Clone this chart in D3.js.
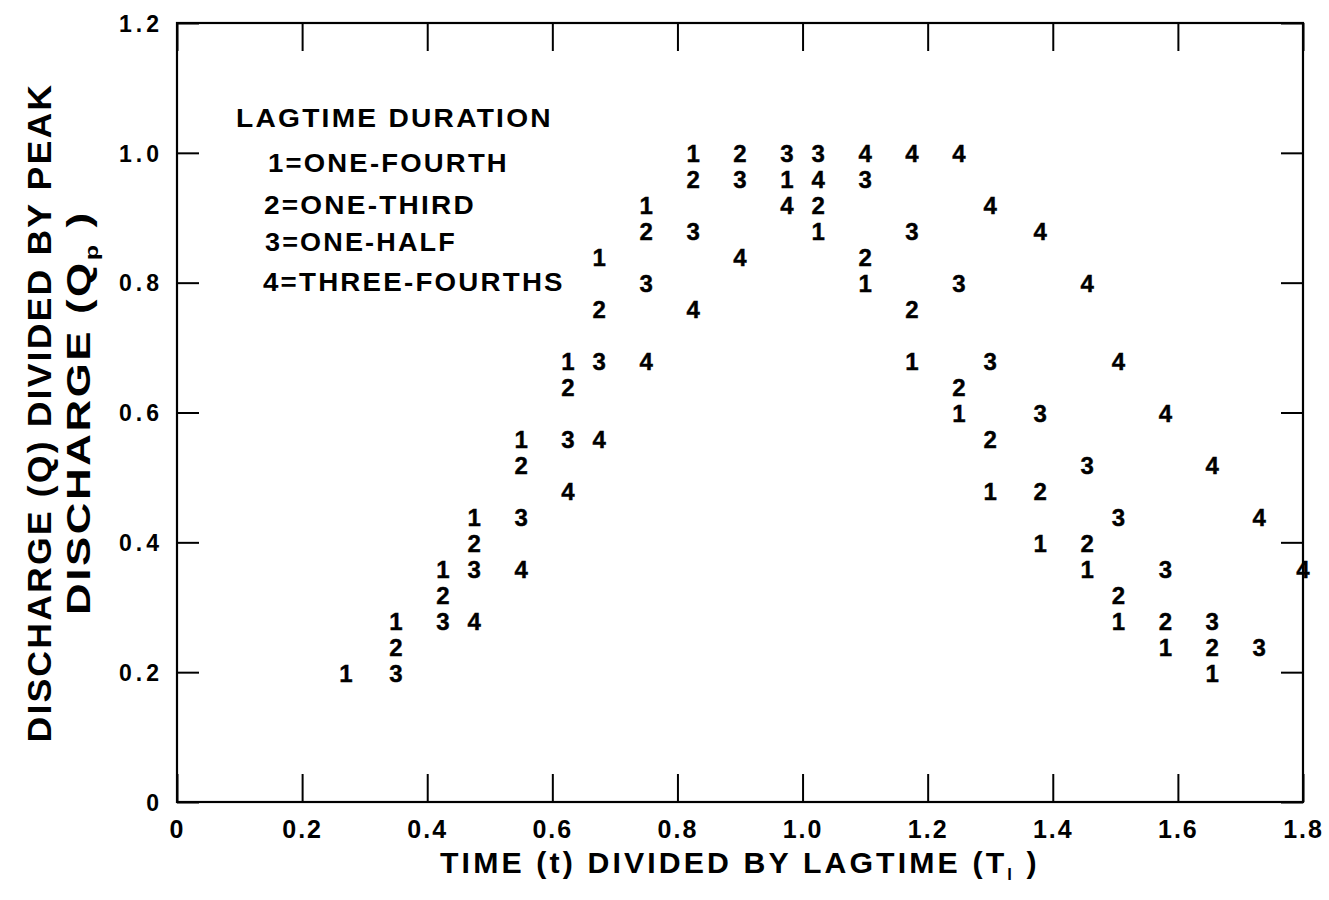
<!DOCTYPE html>
<html>
<head>
<meta charset="utf-8">
<script src="https://cdn.jsdelivr.net/npm/d3@7/dist/d3.min.js"></script>
<style>
  html, body { margin: 0; padding: 0; background: #fff; }
  svg text { font-family: "Liberation Sans", Arial, Helvetica, sans-serif; font-weight: bold; fill: #000; }
</style>
</head>
<body>
<svg id="chart" width="1329" height="900"></svg>
<script>
// Time steps (t / lagtime) at which the dimensionless hydrograph ordinates are plotted
const timeRatio = [0.27, 0.35, 0.425, 0.475, 0.55, 0.625, 0.675, 0.75, 0.825, 0.90, 0.975, 1.025,
                   1.10, 1.175, 1.25, 1.30, 1.38, 1.455, 1.505, 1.58, 1.655, 1.73, 1.80];

// Q / Qp for each lagtime duration (null = no point plotted at that time)
const oneFourth     = [0.20, 0.28, 0.36, 0.44, 0.56, 0.68, 0.84, 0.92, 1.00, null, 0.96, 0.88,
                       0.80, 0.68, 0.60, 0.48, 0.40, 0.36, 0.28, 0.24, 0.20, null, null];
const oneThird      = [null, 0.24, 0.32, 0.40, 0.52, 0.64, 0.76, 0.88, 0.96, 1.00, null, 0.92,
                       0.84, 0.76, 0.64, 0.56, 0.48, 0.40, 0.32, 0.28, 0.24, null, null];
const oneHalf       = [null, 0.20, 0.28, 0.36, 0.44, 0.56, 0.68, 0.80, 0.88, 0.96, 1.00, 1.00,
                       0.96, 0.88, 0.80, 0.68, 0.60, 0.52, 0.44, 0.36, 0.28, 0.24, null];
const threeFourths  = [null, null, null, 0.28, 0.36, 0.48, 0.56, 0.68, 0.76, 0.84, 0.92, 0.96,
                       1.00, 1.00, 1.00, 0.92, 0.88, 0.80, 0.68, 0.60, 0.52, 0.44, 0.36];

const seriesCodes  = ["1", "2", "3", "4"];
const seriesValues = [oneFourth, oneThird, oneHalf, threeFourths];

const legendTitle  = "LAGTIME DURATION";
const legendLabels = ["1=ONE-FOURTH", "2=ONE-THIRD", "3=ONE-HALF", "4=THREE-FOURTHS"];

const xTicks      = [0, 0.2, 0.4, 0.6, 0.8, 1.0, 1.2, 1.4, 1.6, 1.8];
const xTickLabels = ["0", "0.2", "0.4", "0.6", "0.8", "1.0", "1.2", "1.4", "1.6", "1.8"];
const yTicks      = [0, 0.2, 0.4, 0.6, 0.8, 1.0, 1.2];
const yTickLabels = ["0", "0.2", "0.4", "0.6", "0.8", "1.0", "1.2"];

const svg = d3.select("#chart");
const frame = { left: 177, right: 1303, top: 23, bottom: 802 };

const x = d3.scaleLinear().domain([0, 1.8]).range([frame.left, frame.right]);
const y = d3.scaleLinear().domain([0, 1.2]).range([frame.bottom, frame.top]);

// Widen a text element horizontally (in its own frame) so it spans `width` px,
// starting at local origin; `pre` is the transform placed before the stretch.
function stretchTo(sel, width, pre) {
  const w = sel.node().getComputedTextLength();
  sel.attr("transform", `${pre} scale(${width / w},1)`);
}

// ---- axes: inward ticks on all four sides ----
const bottomAxis = d3.axisBottom(x).tickValues(xTicks)
  .tickFormat((d, i) => xTickLabels[i]).tickSizeInner(-28).tickSizeOuter(0).tickPadding(0);
const topAxis = d3.axisTop(x).tickValues(xTicks).tickFormat("").tickSizeInner(-28).tickSizeOuter(0);
const leftAxis = d3.axisLeft(y).tickValues(yTicks)
  .tickFormat((d, i) => yTickLabels[i]).tickSizeInner(-22).tickSizeOuter(0).tickPadding(0);
const rightAxis = d3.axisRight(y).tickValues(yTicks).tickFormat("").tickSizeInner(-22).tickSizeOuter(0);

const gB = svg.append("g").attr("transform", `translate(0,${frame.bottom})`).call(bottomAxis);
const gT = svg.append("g").attr("transform", `translate(0,${frame.top})`).call(topAxis);
const gL = svg.append("g").attr("transform", `translate(${frame.left},0)`).call(leftAxis);
const gR = svg.append("g").attr("transform", `translate(${frame.right},0)`).call(rightAxis);

[gB, gT, gL, gR].forEach(g => {
  g.select(".domain").remove();
  g.selectAll(".tick line").attr("stroke", "#000").attr("stroke-width", 2);
  g.attr("font-family", null).attr("font-size", null);
});

gB.selectAll(".tick text")
  .attr("y", 27).attr("dy", "0.36em")
  .style("font-size", "25px")
  .style("letter-spacing", "2px");

gL.selectAll(".tick text")
  .attr("x", -14).attr("dy", "0.36em")
  .style("font-size", "23px")
  .style("letter-spacing", "4px")
  .attr("text-anchor", "end");

// plot frame
svg.append("rect")
  .attr("x", frame.left).attr("y", frame.top)
  .attr("width", frame.right - frame.left).attr("height", frame.bottom - frame.top)
  .attr("fill", "none").attr("stroke", "#000").attr("stroke-width", 2.2);

// ---- data points drawn as their series code digit ----
const points = [];
seriesValues.forEach((vals, s) => {
  vals.forEach((v, i) => {
    if (v !== null) points.push({ code: seriesCodes[s], t: timeRatio[i], q: v });
  });
});

svg.append("g").selectAll("text")
  .data(points)
  .join("text")
  .attr("x", d => x(d.t))
  .attr("y", d => y(d.q))
  .attr("dy", "0.40em")
  .attr("text-anchor", "middle")
  .style("font-size", "24px")
  .style("stroke", "#000")
  .style("stroke-width", "0.4px")
  .text(d => d.code);

// ---- legend ----
const legend = svg.append("g");
legend.append("text")
  .style("font-size", "25px")
  .style("letter-spacing", "2px")
  .text(legendTitle)
  .call(stretchTo, 317, "translate(236,127)");

const legendX = [268, 264, 265, 263];
const legendW = [241, 212, 192, 302];
const legendY = [172, 214, 251, 291];
legendLabels.forEach((lab, i) => {
  legend.append("text")
    .style("font-size", "25px")
    .style("letter-spacing", "2px")
    .text(lab)
    .call(stretchTo, legendW[i], `translate(${legendX[i]},${legendY[i]})`);
});

// ---- axis titles ----
const xTarget = 600;
const xTitle = svg.append("text")
  .style("font-size", "29px")
  .style("letter-spacing", "3px");
xTitle.append("tspan").text("TIME (t) DIVIDED BY LAGTIME (T");
xTitle.append("tspan").attr("dy", 7).style("font-size", "16px").text("l");
xTitle.append("tspan").attr("dy", -7).text(" )");
xTitle.call(stretchTo, xTarget, `translate(${(frame.left + frame.right) / 2 - xTarget / 2},873)`);

const yMid = (frame.top + frame.bottom) / 2;

const y1Target = 660;
const yTitle1 = svg.append("text")
  .style("font-size", "33px")
  .style("letter-spacing", "2px")
  .text("DISCHARGE (Q) DIVIDED BY PEAK");
yTitle1.call(stretchTo, y1Target, `translate(51,${yMid + y1Target / 2}) rotate(-90)`);

const y2Target = 405;
const yTitle2 = svg.append("text")
  .style("font-size", "33px")
  .style("letter-spacing", "2px");
yTitle2.append("tspan").text("DISCHARGE (Q");
yTitle2.append("tspan").attr("dy", 8).style("font-size", "19px").text("p");
yTitle2.append("tspan").attr("dy", -8).text(" )");
yTitle2.call(stretchTo, y2Target, `translate(90,${yMid + y2Target / 2}) rotate(-90)`);
</script>
</body>
</html>
